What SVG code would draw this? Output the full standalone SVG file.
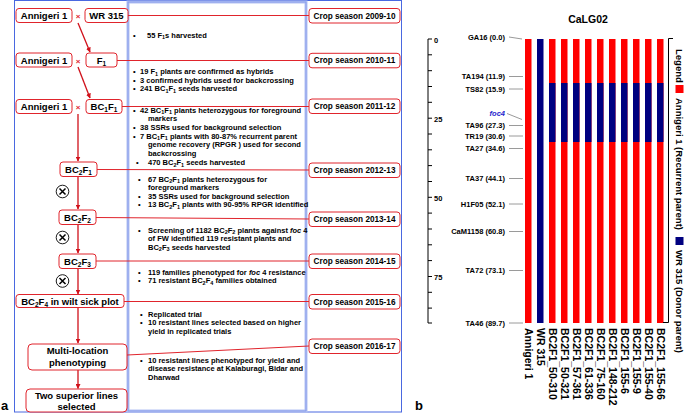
<svg xmlns="http://www.w3.org/2000/svg" width="685" height="414" viewBox="0 0 685 414">
<defs>
<marker id="ah" viewBox="0 0 10 10" refX="9" refY="5" markerWidth="5" markerHeight="5" orient="auto" markerUnits="userSpaceOnUse"><path d="M0,0 L10,5 L0,10 z" fill="#d0101a"/></marker>
<style>
text{font-family:"Liberation Sans",Arial,sans-serif;font-weight:bold;fill:#000}
.nb{fill:#fff;stroke:#e0242c;stroke-width:1}
.nt{font-size:9.5px;text-anchor:middle}
.ct{font-size:8.2px;text-anchor:middle}
.mt{font-size:7.5px}
.s{font-size:5.5px}
.ns{font-size:6.5px}
.cx{font-size:8px;fill:#e0242c;text-anchor:middle}
.red{stroke:#d0101a;stroke-width:1.3;fill:none}
.hl{stroke:#e0242c;stroke-width:1;fill:none}
.ml{font-size:7.5px;text-anchor:end}
.ax{stroke:#000;stroke-width:1;fill:none}
.ld{stroke:#9a9a9a;stroke-width:1;fill:none}
.bl{font-size:10.5px}
.lg{font-size:9.5px}
</style>
</defs>
<rect width="685" height="414" fill="#fff"/>

<!-- panel a frames -->
<g id="frames">
<rect x="14.5" y="0.5" width="387" height="411.5" fill="none" stroke="#4a68e0" stroke-width="1"/>
<rect x="128" y="2" width="178" height="409" fill="none" stroke="#b4c2f2" stroke-width="3"/>
<rect x="128" y="2" width="178" height="409" fill="none" stroke="#6f88e8" stroke-width="0.6"/>
</g>

<!-- connectors -->
<g id="connectors">
<line class="red" x1="78" y1="23" x2="90" y2="52" marker-end="url(#ah)"/>
<line class="red" x1="78" y1="67" x2="90" y2="98" marker-end="url(#ah)"/>
<line class="red" x1="78" y1="114" x2="78" y2="161" marker-end="url(#ah)"/>
<line class="red" x1="78" y1="176" x2="78" y2="209" marker-end="url(#ah)"/>
<line class="red" x1="78" y1="224" x2="78" y2="253" marker-end="url(#ah)"/>
<line class="red" x1="78" y1="268" x2="78" y2="294" marker-end="url(#ah)"/>
<line class="red" x1="78" y1="307.5" x2="78" y2="343" marker-end="url(#ah)"/>
<line class="red" x1="78" y1="370" x2="78" y2="388.5" marker-end="url(#ah)"/>
<line class="hl" x1="128" y1="15.5" x2="309" y2="15.5"/>
<line class="hl" x1="117" y1="60.5" x2="309" y2="60.5"/>
<line class="hl" x1="122" y1="106.5" x2="309" y2="106.5"/>
<line class="hl" x1="97" y1="169.5" x2="309" y2="170"/>
<line class="hl" x1="96" y1="217.5" x2="309" y2="219"/>
<line class="hl" x1="96" y1="261" x2="309" y2="261"/>
<line class="hl" x1="124" y1="301.5" x2="309" y2="301.5"/>
<line class="hl" x1="127" y1="355" x2="309" y2="346"/>
</g>

<!-- left nodes -->
<g id="n_ann1"><rect class="nb" x="16" y="8.5" width="56" height="14" rx="3"/><text class="nt" x="44" y="19">Annigeri 1</text></g>
<g id="n_x1"><text class="cx" x="78" y="19">×</text></g>
<g id="n_wr315"><rect class="nb" x="85" y="8.5" width="43" height="14" rx="3"/><text class="nt" x="106.5" y="19">WR 315</text></g>
<g id="n_ann2"><rect class="nb" x="16" y="53" width="56" height="14" rx="3"/><text class="nt" x="44" y="63.5">Annigeri 1</text></g>
<g id="n_x2"><text class="cx" x="78" y="63.5">×</text></g>
<g id="n_f1"><rect class="nb" x="86" y="53" width="31" height="14" rx="3"/><text class="nt" x="101.5" y="63.5">F<tspan class="ns" dy="2">1</tspan></text></g>
<g id="n_ann3"><rect class="nb" x="16" y="99.5" width="56" height="14" rx="3"/><text class="nt" x="44" y="110">Annigeri 1</text></g>
<g id="n_x3"><text class="cx" x="78" y="110">×</text></g>
<g id="n_bc1f1"><rect class="nb" x="86" y="99.5" width="36" height="14" rx="3"/><text class="nt" x="104" y="110">BC<tspan class="ns" dy="2">1</tspan><tspan dy="-2">F</tspan><tspan class="ns" dy="2">1</tspan></text></g>
<g id="n_bc2f1"><rect class="nb" x="60" y="162" width="37" height="14.5" rx="3"/><text class="nt" x="78.5" y="172.5">BC<tspan class="ns" dy="2">2</tspan><tspan dy="-2">F</tspan><tspan class="ns" dy="2">1</tspan></text></g>
<g id="n_bc2f2"><rect class="nb" x="59" y="210" width="37" height="14.5" rx="3"/><text class="nt" x="77.5" y="220.5">BC<tspan class="ns" dy="2">2</tspan><tspan dy="-2">F</tspan><tspan class="ns" dy="2">2</tspan></text></g>
<g id="n_bc2f3"><rect class="nb" x="59" y="254" width="37" height="14.5" rx="3"/><text class="nt" x="77.5" y="264.5">BC<tspan class="ns" dy="2">2</tspan><tspan dy="-2">F</tspan><tspan class="ns" dy="2">3</tspan></text></g>
<g id="n_bc2f4"><rect class="nb" x="16" y="294.5" width="108" height="13" rx="3"/><text class="nt" x="70" y="304.5">BC<tspan class="ns" dy="2">2</tspan><tspan dy="-2">F</tspan><tspan class="ns" dy="2">4</tspan><tspan dy="-2"> in wilt sick plot</tspan></text></g>
<g id="n_multi"><rect class="nb" x="28" y="344" width="99" height="26" rx="4"/><text class="nt" x="77.5" y="353.5">Multi-location</text><text class="nt" x="77.5" y="366">phenotyping</text></g>
<g id="n_two"><rect class="nb" x="26" y="389" width="101" height="23" rx="4"/><text class="nt" x="76.5" y="398.5">Two superior lines</text><text class="nt" x="76.5" y="409.5">selected</text></g>

<g id="selfing">
<g><circle cx="62.5" cy="191.5" r="6.3" fill="#fff" stroke="#000" stroke-width="0.9"/><path d="M59.5,188.5 L65.5,194.5 M65.5,188.5 L59.5,194.5" stroke="#000" stroke-width="1.5"/></g>
<g><circle cx="62.5" cy="237.5" r="6.3" fill="#fff" stroke="#000" stroke-width="0.9"/><path d="M59.5,234.5 L65.5,240.5 M65.5,234.5 L59.5,240.5" stroke="#000" stroke-width="1.5"/></g>
<g><circle cx="62.5" cy="281" r="6.3" fill="#fff" stroke="#000" stroke-width="0.9"/><path d="M59.5,278 L65.5,284 M65.5,278 L59.5,284" stroke="#000" stroke-width="1.5"/></g>
</g>

<!-- crop season nodes -->
<g id="c1"><rect class="nb" x="309" y="8.5" width="91" height="14.5" rx="3"/><text class="ct" x="354.5" y="18.5">Crop season 2009-10</text></g>
<g id="c2"><rect class="nb" x="309" y="53.3" width="91" height="14.5" rx="3"/><text class="ct" x="354.5" y="63.3">Crop season 2010-11</text></g>
<g id="c3"><rect class="nb" x="309" y="99" width="91" height="14.5" rx="3"/><text class="ct" x="354.5" y="109">Crop season 2011-12</text></g>
<g id="c4"><rect class="nb" x="309" y="163" width="91" height="14.5" rx="3"/><text class="ct" x="354.5" y="173">Crop season 2012-13</text></g>
<g id="c5"><rect class="nb" x="309" y="212" width="91" height="14.5" rx="3"/><text class="ct" x="354.5" y="222">Crop season 2013-14</text></g>
<g id="c6"><rect class="nb" x="309" y="254" width="91" height="14.5" rx="3"/><text class="ct" x="354.5" y="264">Crop season 2014-15</text></g>
<g id="c7"><rect class="nb" x="309" y="294.5" width="91" height="14.5" rx="3"/><text class="ct" x="354.5" y="304.5">Crop season 2015-16</text></g>
<g id="c8"><rect class="nb" x="309" y="339" width="91" height="14.5" rx="3"/><text class="ct" x="354.5" y="349">Crop season 2016-17</text></g>

<!-- middle notes -->
<g id="notes" class="mt">
<text class="mt" x="133" y="37.5">•</text><text class="mt" x="147" y="37.5">55 F<tspan class="s" dy="1.8">1</tspan><tspan dy="-1.8">s harvested</tspan></text>

<text class="mt" x="133" y="74">•</text><text class="mt" x="140" y="74">19 F<tspan class="s" dy="1.8">1</tspan><tspan dy="-1.8"> plants are confirmed as hybrids</tspan></text>
<text class="mt" x="133" y="82.5">•</text><text class="mt" x="140" y="82.5">3 confirmed hybrids used for backcrossing</text>
<text class="mt" x="133" y="91">•</text><text class="mt" x="140" y="91">241 BC<tspan class="s" dy="1.8">1</tspan><tspan dy="-1.8">F</tspan><tspan class="s" dy="1.8">1</tspan><tspan dy="-1.8"> seeds harvested</tspan></text>

<text class="mt" x="133" y="112.5">•</text><text class="mt" x="140" y="112.5">42 BC<tspan class="s" dy="1.8">1</tspan><tspan dy="-1.8">F</tspan><tspan class="s" dy="1.8">1</tspan><tspan dy="-1.8"> plants heterozygous for foreground</tspan></text>
<text class="mt" x="148" y="121.2">markers</text>
<text class="mt" x="133" y="129.9">•</text><text class="mt" x="140" y="129.9">38 SSRs used for background selection</text>
<text class="mt" x="133" y="138.6">•</text><text class="mt" x="140" y="138.6">7 BC<tspan class="s" dy="1.8">1</tspan><tspan dy="-1.8">F</tspan><tspan class="s" dy="1.8">1</tspan><tspan dy="-1.8"> plants with 80-87% recurrent parent</tspan></text>
<text class="mt" x="148" y="147.3">genome recovery  (RPGR ) used for second</text>
<text class="mt" x="148" y="156">backcrossing</text>
<text class="mt" x="136" y="164.7">•</text><text class="mt" x="148" y="164.7">470 BC<tspan class="s" dy="1.8">2</tspan><tspan dy="-1.8">F</tspan><tspan class="s" dy="1.8">1</tspan><tspan dy="-1.8"> seeds harvested</tspan></text>

<text class="mt" x="138" y="181.5">•</text><text class="mt" x="148" y="181.5">67 BC<tspan class="s" dy="1.8">2</tspan><tspan dy="-1.8">F</tspan><tspan class="s" dy="1.8">1</tspan><tspan dy="-1.8"> plants heterozygous for</tspan></text>
<text class="mt" x="148" y="190">foreground markers</text>
<text class="mt" x="138" y="198.5">•</text><text class="mt" x="148" y="198.5">35 SSRs used for background selection</text>
<text class="mt" x="138" y="207">•</text><text class="mt" x="148" y="207">13 BC<tspan class="s" dy="1.8">2</tspan><tspan dy="-1.8">F</tspan><tspan class="s" dy="1.8">1</tspan><tspan dy="-1.8"> plants with 90-95% RPGR identified</tspan></text>

<text class="mt" x="138" y="232.5">•</text><text class="mt" x="148" y="232.5">Screening of 1182 BC<tspan class="s" dy="1.8">2</tspan><tspan dy="-1.8">F</tspan><tspan class="s" dy="1.8">2</tspan><tspan dy="-1.8"> plants against </tspan><tspan font-style="italic">foc</tspan> 4</text>
<text class="mt" x="148" y="241">of FW identified 119 resistant plants and</text>
<text class="mt" x="148" y="249.5">BC<tspan class="s" dy="1.8">2</tspan><tspan dy="-1.8">F</tspan><tspan class="s" dy="1.8">3</tspan><tspan dy="-1.8"> seeds harvested</tspan></text>

<text class="mt" x="138" y="274.5">•</text><text class="mt" x="148" y="274.5">119 families phenotyped for <tspan font-style="italic">foc</tspan> 4 resistance</text>
<text class="mt" x="138" y="283">•</text><text class="mt" x="148" y="283">71 resistant BC<tspan class="s" dy="1.8">2</tspan><tspan dy="-1.8">F</tspan><tspan class="s" dy="1.8">4</tspan><tspan dy="-1.8"> families obtained</tspan></text>

<text class="mt" x="140" y="316.5">•</text><text class="mt" x="148" y="316.5">Replicated trial</text>
<text class="mt" x="140" y="325">•</text><text class="mt" x="148" y="325">10 resistant lines selected based on higher</text>
<text class="mt" x="148" y="333.5">yield in replicated trials</text>

<text class="mt" x="140" y="362.5">•</text><text class="mt" x="148" y="362.5">10 resistant lines phenotyped for yield and</text>
<text class="mt" x="148" y="371">disease resistance at Kalaburagi, Bidar and</text>
<text class="mt" x="148" y="379.5">Dharwad</text>
</g>

<text x="1" y="410" font-size="13">a</text>
<text x="415" y="410" font-size="13">b</text>

<!-- panel b -->
<g id="chart">
<text x="588" y="23" font-size="10.5" text-anchor="middle">CaLG02</text>
<g id="axis">
<path class="ax" d="M428,39 V323 M428,39 H432 M428,54.8 H432 M428,70.7 H432 M428,86.5 H432 M428,102.3 H432 M428,118.2 H432 M428,134 H432 M428,149.8 H432 M428,165.6 H432 M428,181.5 H432 M428,197.3 H432 M428,213.1 H432 M428,229 H432 M428,244.8 H432 M428,260.6 H432 M428,276.5 H432 M428,292.3 H432 M428,308.1 H432 M428,323 H432"/>
<text x="434" y="43" font-size="7.5">0</text>
<text x="434" y="122" font-size="7.5">25</text>
<text x="434" y="201" font-size="7.5">50</text>
<text x="434" y="280" font-size="7.5">75</text>
</g>
<g id="markers">
<text class="ml" x="505" y="39.5">GA16 (0.0)</text><line class="ld" x1="509" y1="37" x2="522" y2="39"/>
<text class="ml" x="505" y="79">TA194 (11.9)</text><line class="ld" x1="509" y1="76.5" x2="523" y2="76.5"/>
<text class="ml" x="505" y="91.5">TS82 (15.9)</text><line class="ld" x1="509" y1="89" x2="523" y2="89"/>
<text class="ml" x="505" y="116" fill="#2a2ad0" font-style="italic" style="fill:#2626cc">foc4</text><line class="ld" x1="507" y1="113.5" x2="522" y2="119.5"/>
<text class="ml" x="505" y="128">TA96 (27.3)</text><line class="ld" x1="509" y1="125.5" x2="523" y2="125.5"/>
<text class="ml" x="505" y="138.5">TR19 (30.6)</text><line class="ld" x1="509" y1="136" x2="523" y2="136"/>
<text class="ml" x="505" y="151">TA27 (34.6)</text><line class="ld" x1="509" y1="148.5" x2="523" y2="148.5"/>
<text class="ml" x="505" y="181">TA37 (44.1)</text><line class="ld" x1="509" y1="178.5" x2="523" y2="178.5"/>
<text class="ml" x="505" y="206.5">H1F05 (52.1)</text><line class="ld" x1="509" y1="204" x2="523" y2="204"/>
<text class="ml" x="505" y="234">CaM1158 (60.8)</text><line class="ld" x1="509" y1="231.5" x2="523" y2="231.5"/>
<text class="ml" x="505" y="273">TA72 (73.1)</text><line class="ld" x1="509" y1="270.5" x2="523" y2="270.5"/>
<text class="ml" x="505" y="325.5">TA46 (89.7)</text><line class="ld" x1="509" y1="323" x2="523" y2="323"/>
</g>
<g id="bars">
<rect x="525" y="39" width="6.5" height="284" fill="#ff0000"/>
<rect x="537" y="39" width="6.5" height="284" fill="#000080"/>
<g fill="#ff0000">
<rect x="549" y="39" width="6.5" height="284"/><rect x="561" y="39" width="6.5" height="284"/><rect x="573" y="39" width="6.5" height="284"/><rect x="585" y="39" width="6.5" height="284"/><rect x="597" y="39" width="6.5" height="284"/><rect x="609" y="39" width="6.5" height="284"/><rect x="621" y="39" width="6.5" height="284"/><rect x="633" y="39" width="6.5" height="284"/><rect x="645" y="39" width="6.5" height="284"/><rect x="657" y="39" width="6.5" height="284"/>
</g>
<g fill="#000080">
<rect x="549" y="83" width="6.5" height="59"/><rect x="561" y="83" width="6.5" height="59"/><rect x="573" y="83" width="6.5" height="59"/><rect x="585" y="83" width="6.5" height="59"/><rect x="597" y="83" width="6.5" height="59"/><rect x="609" y="83" width="6.5" height="59"/><rect x="621" y="83" width="6.5" height="59"/><rect x="633" y="83" width="6.5" height="59"/><rect x="645" y="83" width="6.5" height="59"/><rect x="657" y="83" width="6.5" height="59"/>
</g>
</g>
<g id="barlabels" class="bl">
<text class="bl" transform="translate(524.5,328) rotate(90)">Annigeri 1</text>
<text class="bl" transform="translate(536.5,328) rotate(90)">WR  315</text>
<text class="bl" transform="translate(548.5,328) rotate(90)">BC2F1_50-310</text>
<text class="bl" transform="translate(560.5,328) rotate(90)">BC2F1_50-321</text>
<text class="bl" transform="translate(572.5,328) rotate(90)">BC2F1_57-361</text>
<text class="bl" transform="translate(584.5,328) rotate(90)">BC2F1_61-336</text>
<text class="bl" transform="translate(596.5,328) rotate(90)">BC2F1_75-160</text>
<text class="bl" transform="translate(608.5,328) rotate(90)">BC2F1_148-212</text>
<text class="bl" transform="translate(620.5,328) rotate(90)">BC2F1_155-6</text>
<text class="bl" transform="translate(632.5,328) rotate(90)">BC2F1_155-9</text>
<text class="bl" transform="translate(644.5,328) rotate(90)">BC2F1_155-40</text>
<text class="bl" transform="translate(656.5,328) rotate(90)">BC2F1_155-66</text>
</g>
<g id="legend">
<path d="M673,38.5 H668.5 V322.5 H663" fill="none" stroke="#000" stroke-width="1"/>
<text class="lg" transform="translate(675.5,49) rotate(90)">Legend</text>
<rect x="675.5" y="85" width="8" height="8" fill="#ff0000"/>
<text class="lg" transform="translate(675.5,98) rotate(90)">Annigeri 1 (Recurrent parent)</text>
<rect x="675.5" y="237" width="8" height="8" fill="#000080"/>
<text class="lg" transform="translate(675.5,250) rotate(90)">WR 315 (Donor parent)</text>
</g>
</g>
</svg>
